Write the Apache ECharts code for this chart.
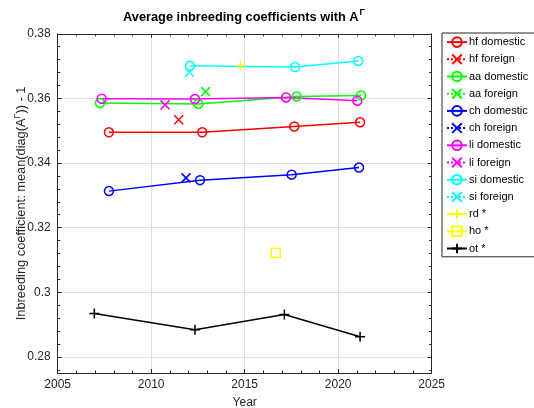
<!DOCTYPE html>
<html>
<head>
<meta charset="utf-8">
<script src="https://cdn.jsdelivr.net/npm/echarts@6/dist/echarts.min.js"></script>
<style>html,body{margin:0;padding:0;background:#fff}#c{width:534px;height:408px}</style>
</head>
<body>
<div id="c"></div>
<script>
// ---- data ----
const hfDomX = [2007.74, 2012.73, 2017.65, 2021.17];
const hfDomY = [0.3495, 0.3495, 0.3513, 0.3526];
const hfForX = [2011.47];
const hfForY = [0.3534];
const aaDomX = [2007.26, 2012.52, 2017.78, 2021.22];
const aaDomY = [0.3586, 0.3583, 0.3606, 0.3609];
const aaForX = [2012.91];
const aaForY = [0.3621];
const chDomX = [2007.74, 2012.61, 2017.51, 2021.11];
const chDomY = [0.3313, 0.3347, 0.3364, 0.3386];
const chForX = [2011.86];
const chForY = [0.3354];
const liDomX = [2007.35, 2012.34, 2017.21, 2021.02];
const liDomY = [0.3599, 0.3598, 0.3603, 0.3593];
const liForX = [2010.74];
const liForY = [0.3580];
const siDomX = [2012.07, 2017.69, 2021.07];
const siDomY = [0.3701, 0.3697, 0.3716];
const siForX = [2012.04];
const siForY = [0.3681];
const rdX = [2014.77];
const rdY = [0.3702];
const hoX = [2016.66];
const hoY = [0.3122];
const otX = [2006.96, 2012.34, 2017.12, 2021.17];
const otY = [0.2934, 0.2884, 0.2931, 0.2862];

const xTickLabels = [2005, 2010, 2015, 2020, 2025];
const yMajorTicks = [0.28, 0.30, 0.32, 0.34, 0.36, 0.38];
const yMinorTicks = [0.276, 0.284, 0.288, 0.292, 0.296, 0.304, 0.308, 0.312, 0.316,
  0.324, 0.328, 0.332, 0.336, 0.344, 0.348, 0.352, 0.356, 0.364, 0.368, 0.372, 0.376];

const AX = '#262626';
const X_SYM = 'path://M0,0L10,10M10,0L0,10';
const PLUS_SYM = 'path://M5,0L5,10M0,5L10,5';

function pairs(xs, ys) { return xs.map((x, i) => [x, ys[i]]); }

function mk(name, xs, ys, color, symbol, size, lineType) {
  return {
    name: name, type: 'line', xAxisIndex: 0, yAxisIndex: 0,
    data: pairs(xs, ys),
    symbol: symbol, symbolSize: size, showSymbol: true,
    lineStyle: { color: color, width: 1.5, type: lineType || 'solid' },
    itemStyle: { color: 'rgba(0,0,0,0)', borderColor: color, borderWidth: 1.5 },
    emphasis: { disabled: true },
    animation: false
  };
}

const series = [
  mk('hf domestic', hfDomX, hfDomY, '#ff0000', 'circle', 9),
  mk('hf foreign', hfForX, hfForY, '#ff0000', X_SYM, 9, 'dotted'),
  mk('aa domestic', aaDomX, aaDomY, '#00ff00', 'circle', 9),
  mk('aa foreign', aaForX, aaForY, '#00ff00', X_SYM, 9, 'dotted'),
  mk('ch domestic', chDomX, chDomY, '#0000ff', 'circle', 9),
  mk('ch foreign', chForX, chForY, '#0000ff', X_SYM, 9, 'dotted'),
  mk('li domestic', liDomX, liDomY, '#ff00ff', 'circle', 9),
  mk('li foreign', liForX, liForY, '#ff00ff', X_SYM, 9, 'dotted'),
  mk('si domestic', siDomX, siDomY, '#00ffff', 'circle', 9),
  mk('si foreign', siForX, siForY, '#00ffff', X_SYM, 9, 'dotted'),
  mk('rd *', rdX, rdY, '#ffff00', PLUS_SYM, 10),
  mk('ho *', hoX, hoY, '#ffff00', 'rect', 9),
  mk('ot *', otX, otY, '#000000', PLUS_SYM, 10)
];

const FONT = 'Liberation Sans, Arial, Helvetica, sans-serif';
const gridL = 57.7, gridR = 102.3, gridT = 33.8, gridB = 35;

const chart = echarts.init(document.getElementById('c'), null, { renderer: 'canvas' });
chart.setOption({
  animation: false,
  backgroundColor: '#fff',
  title: {
    text: '{b|Average inbreeding coefficients with A}{s|Γ}',
    left: 239, top: 4, textAlign: 'center',
    textStyle: {
      rich: {
        b: { fontFamily: FONT, fontSize: 12.8, fontWeight: 'bold', color: '#000', lineHeight: 16 },
        s: { fontFamily: FONT, fontSize: 9, color: '#000', padding: [0, 0, 9, 1], lineHeight: 16 }
      }
    }
  },
  grid: { left: gridL, right: gridR, top: gridT, bottom: gridB, containLabel: false, outerBoundsMode: 'none' },
  legend: {
    orient: 'vertical', left: 442, top: 33,
    padding: [3.3, 20, 2.5, 4],
    itemWidth: 20, itemHeight: 12, itemGap: 5.6,
    backgroundColor: '#fff', borderColor: AX, borderWidth: 1, borderRadius: 0,
    textStyle: { fontFamily: FONT, fontSize: 11, color: '#000', padding: [0, 0, 0, -3] },
    data: series.map(s => s.name),
    selectedMode: false
  },
  xAxis: [
    {
      type: 'value', position: 'bottom', min: xTickLabels[0], max: xTickLabels[xTickLabels.length - 1], interval: 5,
      name: 'Year', nameLocation: 'middle', nameGap: 24, nameMoveOverlap: false,
      nameTextStyle: { fontFamily: FONT, fontSize: 12, color: AX },
      axisLine: { show: true, onZero: false, lineStyle: { color: AX, width: 1 } },
      axisTick: { show: true, inside: true, length: 4, lineStyle: { color: AX } },
      minorTick: { show: true, splitNumber: 5, length: 2.5, lineStyle: { color: AX } },
      axisLabel: { fontFamily: FONT, fontSize: 12, color: AX, margin: 6, formatter: v => String(v) },
      splitLine: { show: true, lineStyle: { color: '#dfdfdf', width: 1 } }
    },
    {
      type: 'value', position: 'top', min: xTickLabels[0], max: xTickLabels[xTickLabels.length - 1], interval: 5,
      axisLine: { show: true, onZero: false, lineStyle: { color: AX, width: 1 } },
      axisTick: { show: true, inside: true, length: 4, lineStyle: { color: AX } },
      minorTick: { show: true, splitNumber: 5, length: 2.5, lineStyle: { color: AX } },
      axisLabel: { show: false },
      splitLine: { show: false }
    }
  ],
  yAxis: [
    {
      type: 'value', position: 'left', min: 0.275, max: 0.38,
      name: '{t|Inbreeding coefficient: mean(diag(A}{s|Γ}{t|)) - 1}',
      nameLocation: 'middle', nameGap: 28, nameMoveOverlap: false,
      nameTextStyle: {
        rich: {
          t: { fontFamily: FONT, fontSize: 12.8, color: AX, lineHeight: 16 },
          s: { fontFamily: FONT, fontSize: 9, color: AX, padding: [0, 0, 9, 0], lineHeight: 16 }
        }
      },
      axisLine: { show: true, onZero: false, lineStyle: { color: AX, width: 1 } },
      axisTick: { show: true, inside: true, length: 4, lineStyle: { color: AX }, customValues: yMajorTicks },
      axisLabel: { fontFamily: FONT, fontSize: 12, color: AX, margin: 7, customValues: yMajorTicks,
        formatter: v => String(+v.toFixed(2)) },
      splitLine: { show: true, lineStyle: { color: '#dfdfdf', width: 1 } }
    },
    {
      type: 'value', position: 'left', min: 0.275, max: 0.38,
      axisLine: { show: false },
      axisTick: { show: true, inside: true, length: 2.5, lineStyle: { color: AX }, customValues: yMinorTicks },
      axisLabel: { show: false },
      splitLine: { show: false }
    },
    {
      type: 'value', position: 'right', min: 0.275, max: 0.38,
      axisLine: { show: true, onZero: false, lineStyle: { color: AX, width: 1 } },
      axisTick: { show: true, inside: true, length: 4, lineStyle: { color: AX }, customValues: yMajorTicks },
      axisLabel: { show: false },
      splitLine: { show: false }
    },
    {
      type: 'value', position: 'right', min: 0.275, max: 0.38,
      axisLine: { show: false },
      axisTick: { show: true, inside: true, length: 2.5, lineStyle: { color: AX }, customValues: yMinorTicks },
      axisLabel: { show: false },
      splitLine: { show: false }
    }
  ],
  series: series
});
</script>
</body>
</html>
